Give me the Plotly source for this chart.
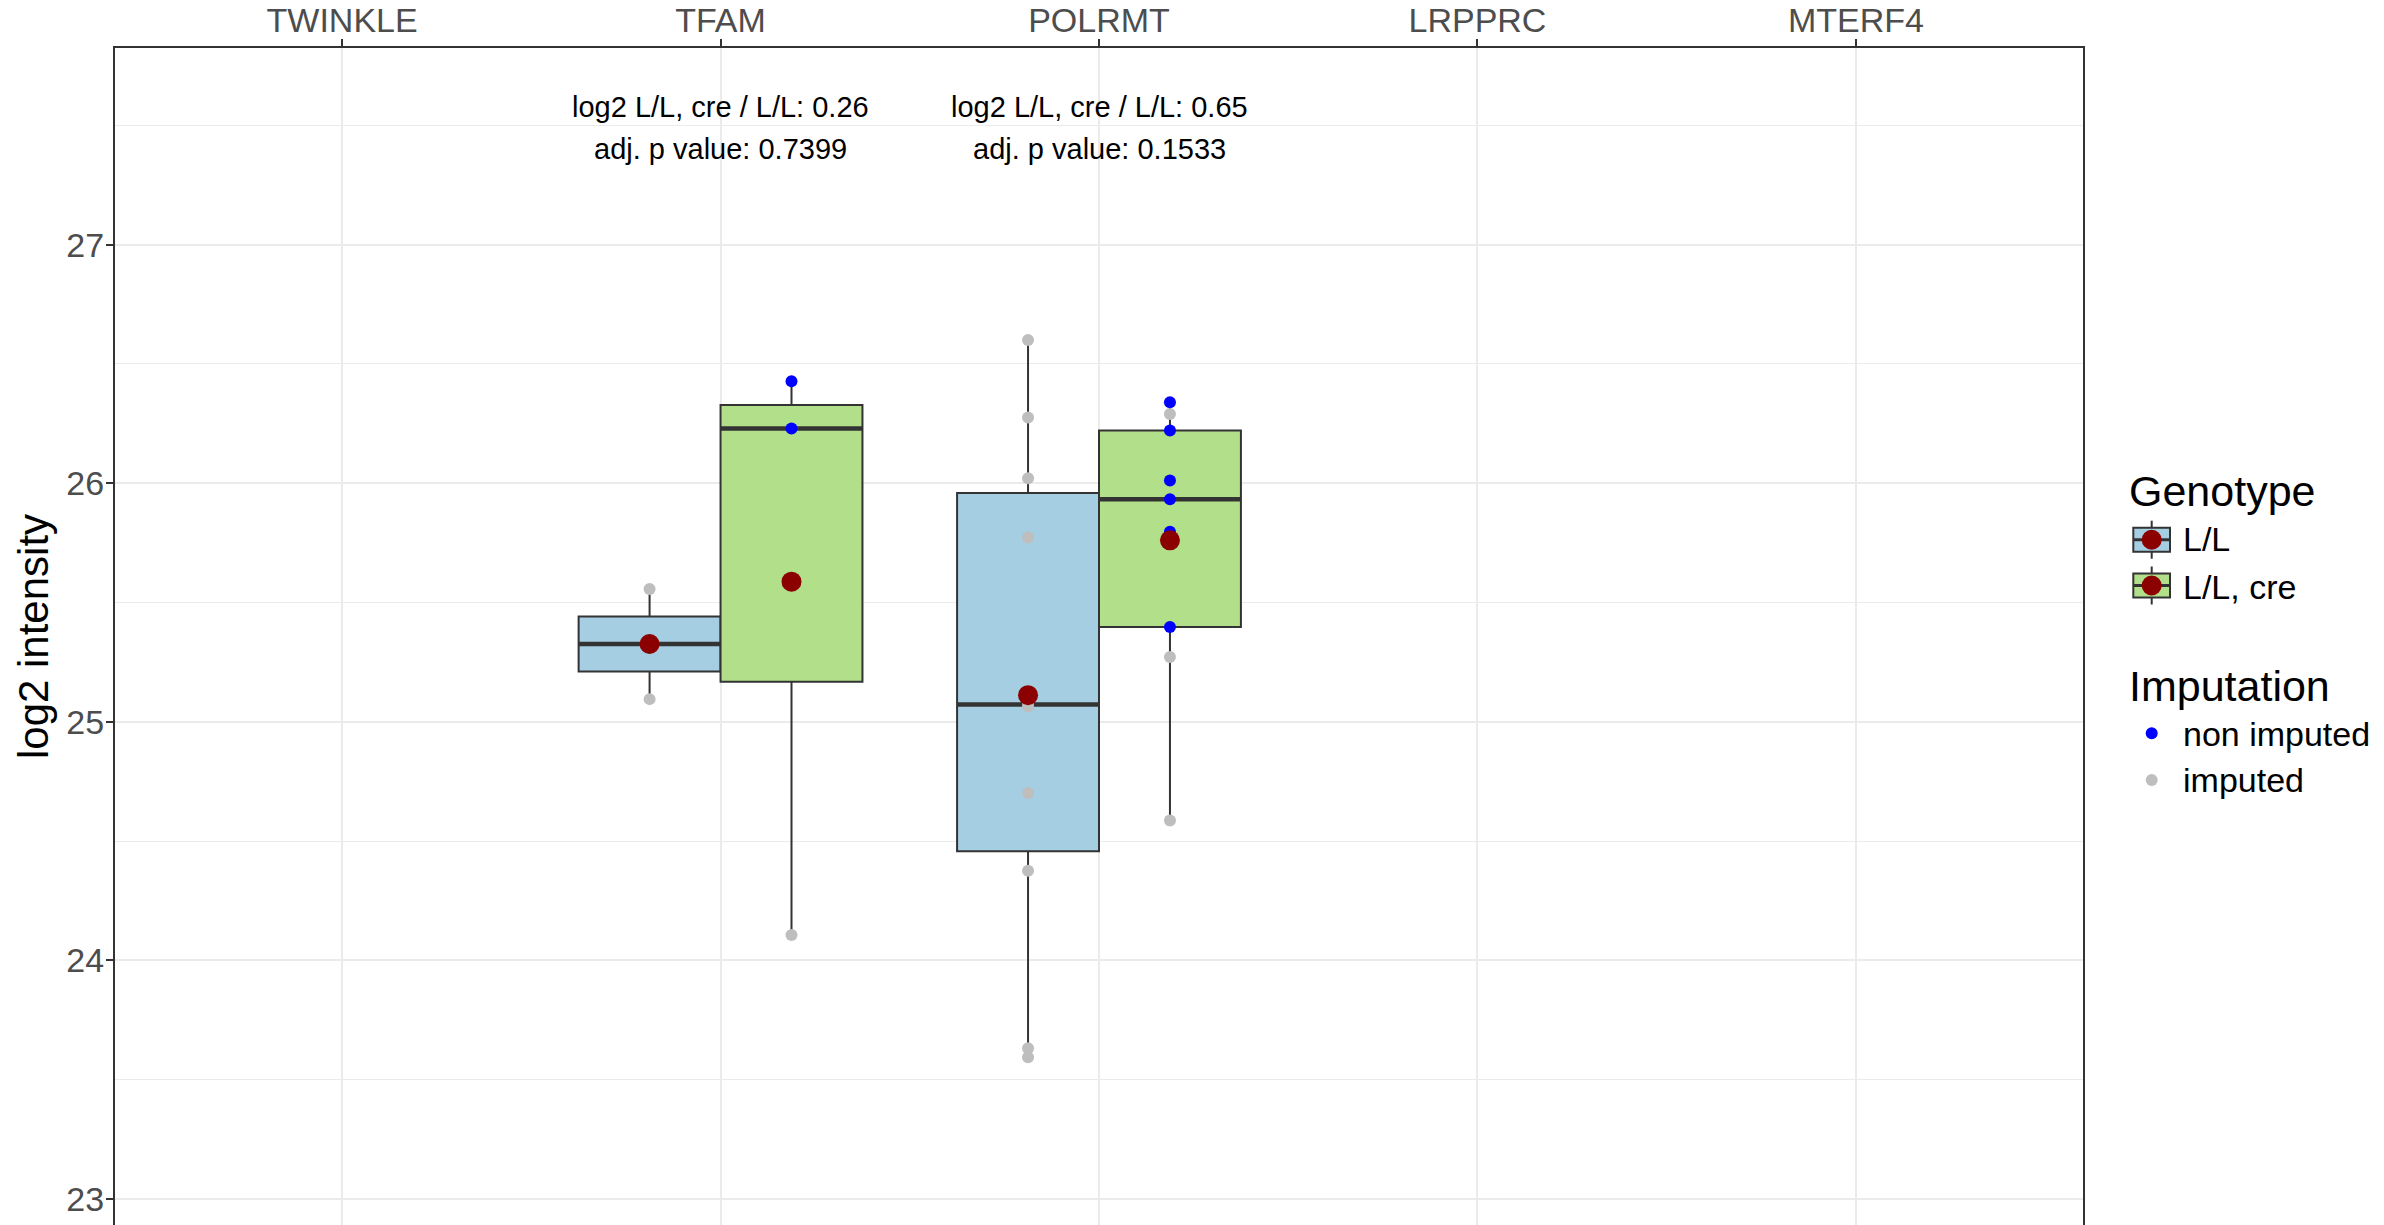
import numpy as np
import plotly.graph_objects as go

# ---------------- data ----------------
genes = ["TWINKLE", "TFAM", "POLRMT", "LRPPRC", "MTERF4"]
genotypes = ["L/L", "L/L, cre"]
genotype_colors = ["#A6CEE3", "#B2DF8A"]
imputation_levels = ["non imputed", "imputed"]
imputation_colors = ["#0000FF", "#BEBEBE"]

tfam_ll_values = [25.557, 25.326, 25.095]
tfam_ll_imputation = ["imputed", "imputed", "imputed"]
tfam_cre_values = [26.427, 26.229, 24.106]
tfam_cre_imputation = ["non imputed", "non imputed", "imputed"]
polrmt_ll_values = [26.600, 26.275, 26.021, 25.772, 25.080, 25.064, 24.702, 24.376, 23.632, 23.594]
polrmt_ll_imputation = ["imputed"] * 10
polrmt_cre_values = [26.339, 26.290, 26.221, 26.011, 25.933, 25.797, 25.397, 25.272, 24.586]
polrmt_cre_imputation = ["non imputed", "imputed", "non imputed", "non imputed", "non imputed",
                         "non imputed", "non imputed", "imputed", "imputed"]

stat_genes = ["TFAM", "POLRMT"]
log2_ratios = ["0.26", "0.65"]
adj_p_values = ["0.7399", "0.1533"]

groups = [
    ("TFAM", "L/L", tfam_ll_values, tfam_ll_imputation),
    ("TFAM", "L/L, cre", tfam_cre_values, tfam_cre_imputation),
    ("POLRMT", "L/L", polrmt_ll_values, polrmt_ll_imputation),
    ("POLRMT", "L/L, cre", polrmt_cre_values, polrmt_cre_imputation),
]

# ---------------- geometry / style ----------------
OFF = 8                      # default page body margin
W, H = 2384 - OFF, 1225 - OFF
ML, MR, MT, MB = 115 - OFF, 301, 48 - OFF, 0
PW, PH = W - ML - MR, H - MT - MB
FONT = "Liberation Sans, Arial, Helvetica, sans-serif"
DODGE = 0.75
BOXW = DODGE / 2
DARK = "#333333"
GRID = "#EBEBEB"
MEAN_COLOR = "#8B0000"


def px_x(px):
    """page pixel x -> paper coordinate"""
    return (px - OFF - ML) / PW


def px_y(py):
    """page pixel y -> paper coordinate"""
    return (H - MB - (py - OFF)) / PH


fig = go.Figure()

# boxes
for gi, gname in enumerate(genotypes):
    xs, q1s, meds, q3s, lows, highs = [], [], [], [], [], []
    for gene, gt, vals, imp in groups:
        if gt != gname:
            continue
        v = np.array(vals)
        q1, med, q3 = np.percentile(v, [25, 50, 75])
        iqr = q3 - q1
        lo = v[v >= q1 - 1.5 * iqr].min()
        hi = v[v <= q3 + 1.5 * iqr].max()
        pos = genes.index(gene) + (gi - 0.5) * BOXW
        xs.append(pos); q1s.append(q1); meds.append(med); q3s.append(q3)
        lows.append(lo); highs.append(hi)
    fig.add_trace(go.Box(
        x=xs, q1=q1s, median=meds, q3=q3s, lowerfence=lows, upperfence=highs,
        width=BOXW, fillcolor=genotype_colors[gi], line=dict(color=DARK, width=2),
        whiskerwidth=0, boxpoints=False, name=gname, showlegend=False, hoverinfo="skip"))
    # thicker median line
    mx, my = [], []
    for p, m in zip(xs, meds):
        mx += [p - BOXW / 2, p + BOXW / 2, None]
        my += [m, m, None]
    fig.add_trace(go.Scatter(x=mx, y=my, mode="lines", line=dict(color=DARK, width=4.5),
                             showlegend=False, hoverinfo="skip"))

# points
for level, color in zip(["imputed", "non imputed"], ["#BEBEBE", "#0000FF"]):
    px_, py_ = [], []
    for gene, gt, vals, imp in groups:
        pos = genes.index(gene) + (genotypes.index(gt) - 0.5) * BOXW
        for v, im in zip(vals, imp):
            if im == level:
                px_.append(pos); py_.append(v)
    fig.add_trace(go.Scatter(x=px_, y=py_, mode="markers",
                             marker=dict(color=color, size=12, line=dict(width=0)),
                             showlegend=False, name=level))

# means
mx, my = [], []
for gene, gt, vals, imp in groups:
    mx.append(genes.index(gene) + (genotypes.index(gt) - 0.5) * BOXW)
    my.append(float(np.mean(vals)))
fig.add_trace(go.Scatter(x=mx, y=my, mode="markers",
                         marker=dict(color=MEAN_COLOR, size=20, line=dict(width=0)),
                         showlegend=False, name="mean"))

annotations = []
for gene, r, p in zip(stat_genes, log2_ratios, adj_p_values):
    xi = genes.index(gene)
    annotations.append(dict(x=xi, y=27.575, xref="x", yref="y", showarrow=False,
                            text=f"log2 L/L, cre / L/L: {r}", font=dict(size=29, color="black", family=FONT),
                            xanchor="center", yanchor="middle"))
    annotations.append(dict(x=xi, y=27.399, xref="x", yref="y", showarrow=False,
                            text=f"adj. p value: {p}", font=dict(size=29, color="black", family=FONT),
                            xanchor="center", yanchor="middle"))

# ---------------- manual legend ----------------
shapes = []
KEY_CX = 2151.7
KEY_X0, KEY_X1 = 2133.3, 2170.0
genotype_key_y = [539.7, 585.5]
genotype_text_shift = [-1, 1]
for col, cy, label, sh in zip(genotype_colors, genotype_key_y, genotypes, genotype_text_shift):
    shapes.append(dict(type="line", xref="paper", yref="paper",
                       x0=px_x(KEY_CX), x1=px_x(KEY_CX), y0=px_y(cy - 19), y1=px_y(cy + 19),
                       line=dict(color=DARK, width=2)))
    shapes.append(dict(type="rect", xref="paper", yref="paper",
                       x0=px_x(KEY_X0), x1=px_x(KEY_X1), y0=px_y(cy - 12), y1=px_y(cy + 12),
                       fillcolor=col, line=dict(color=DARK, width=2)))
    shapes.append(dict(type="line", xref="paper", yref="paper",
                       x0=px_x(KEY_X0), x1=px_x(KEY_X1), y0=px_y(cy), y1=px_y(cy),
                       line=dict(color=DARK, width=3)))
    shapes.append(dict(type="circle", xref="paper", yref="paper",
                       x0=px_x(KEY_CX - 10), x1=px_x(KEY_CX + 10), y0=px_y(cy - 10), y1=px_y(cy + 10),
                       fillcolor=MEAN_COLOR, line=dict(width=0)))
    annotations.append(dict(x=px_x(2181), y=px_y(cy + sh), xref="paper", yref="paper", showarrow=False,
                            text=label, font=dict(size=34, color="black", family=FONT),
                            xanchor="left", yanchor="middle"))

imp_key_y = [733.3, 780.0]
for col, cy, label in zip(imputation_colors, imp_key_y, imputation_levels):
    shapes.append(dict(type="circle", xref="paper", yref="paper",
                       x0=px_x(KEY_CX - 6), x1=px_x(KEY_CX + 6), y0=px_y(cy - 6), y1=px_y(cy + 6),
                       fillcolor=col, line=dict(width=0)))
    annotations.append(dict(x=px_x(2181), y=px_y(cy + 0.5), xref="paper", yref="paper", showarrow=False,
                            text=label, font=dict(size=34, color="black", family=FONT),
                            xanchor="left", yanchor="middle"))

for title, cy in [("Genotype", 490.5), ("Imputation", 686)]:
    annotations.append(dict(x=px_x(2127), y=px_y(cy), xref="paper", yref="paper", showarrow=False,
                            text=title, font=dict(size=43, color="black", family=FONT),
                            xanchor="left", yanchor="middle"))

fig.update_layout(
    width=W, height=H,
    margin=dict(l=ML, r=MR, t=MT, b=MB, autoexpand=False),
    plot_bgcolor="white", paper_bgcolor="white",
    boxmode="overlay",
    showlegend=False,
    font=dict(family=FONT),
    shapes=shapes,
    annotations=annotations,
    xaxis=dict(
        side="top", range=[-0.6, 4.6], tickmode="array", tickvals=list(range(len(genes))),
        ticktext=genes, tickfont=dict(size=34, color="#4D4D4D", family=FONT),
        ticklabelstandoff=-7,
        showgrid=True, gridcolor=GRID, gridwidth=2, zeroline=False,
        showline=True, mirror=True, linecolor=DARK, linewidth=2,
        ticks="outside", ticklen=7, tickwidth=2, tickcolor=DARK,
    ),
    yaxis=dict(
        range=[22.891, 27.824], tickmode="array", tickvals=[23, 24, 25, 26, 27],
        tickfont=dict(size=34, color="#4D4D4D", family=FONT),
        ticklabelstandoff=-5,
        showgrid=True, gridcolor=GRID, gridwidth=2, zeroline=False,
        minor=dict(tickmode="array", tickvals=[23.5, 24.5, 25.5, 26.5, 27.5],
                   showgrid=True, gridcolor=GRID, gridwidth=1, ticks=""),
        showline=True, mirror=True, linecolor=DARK, linewidth=2,
        ticks="outside", ticklen=7, tickwidth=2, tickcolor=DARK,
        title=dict(text="log2 intensity", font=dict(size=42, color="black", family=FONT), standoff=5),
    ),
)

fig.write_html("out.html")
